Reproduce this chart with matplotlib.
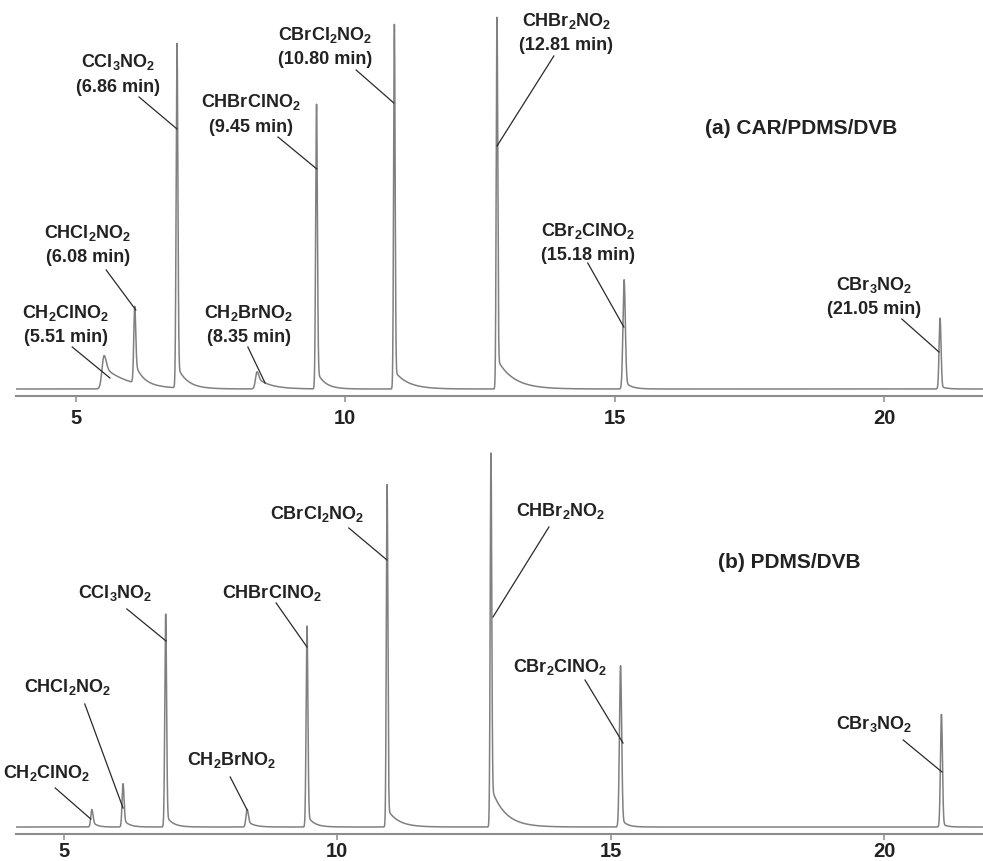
import numpy as np
import matplotlib.pyplot as plt

plt.rcParams['font.family'] = ['Liberation Sans', 'DejaVu Sans']
plt.rcParams['font.weight'] = 'bold'
plt.rcParams['mathtext.default'] = 'regular'

# compound names and labelled retention times
names = ['CH$_2$ClNO$_2$', 'CHCl$_2$NO$_2$', 'CCl$_3$NO$_2$', 'CH$_2$BrNO$_2$',
         'CHBrClNO$_2$', 'CBrCl$_2$NO$_2$', 'CHBr$_2$NO$_2$', 'CBr$_2$ClNO$_2$',
         'CBr$_3$NO$_2$']
rt_text = ['5.51', '6.08', '6.86', '8.35', '9.45', '10.80', '12.81', '15.18', '21.05']

# (a) CAR/PDMS/DVB : peak apex time (min), height, width, tail height, tail decay (min)
rt_a = [5.52, 6.09, 6.875, 8.36, 9.465, 10.91, 12.815, 15.175, 21.04]
h_a = [35, 78, 346, 18, 286, 366, 374, 110, 71]
sig_a = [0.04, 0.018, 0.016, 0.03, 0.016, 0.014, 0.014, 0.022, 0.018]
tail_a = [22, 20, 22, 11, 18, 18, 30, 8, 3]
tau_a = [0.45, 0.15, 0.18, 0.25, 0.15, 0.25, 0.3, 0.12, 0.1]

# (b) PDMS/DVB
rt_b = [5.51, 6.08, 6.86, 8.35, 9.445, 10.91, 12.81, 15.18, 21.05]
h_b = [18, 44, 214, 18, 202, 344, 377, 162, 113]
sig_b = [0.02, 0.018, 0.016, 0.022, 0.016, 0.014, 0.014, 0.02, 0.018]
tail_b = [6, 8, 12, 6, 12, 18, 40, 9, 4]
tau_b = [0.08, 0.1, 0.12, 0.12, 0.12, 0.2, 0.25, 0.1, 0.08]

ticks = [5, 10, 15, 20]

# label layout: text centre (time, level of first line), leader start, leader tip
lab_a = [(4.81, 76), (5.22, 156), (5.78, 327), (8.21, 76), (8.25, 287),
         (9.62, 354), (14.10, 368), (14.50, 158), (19.81, 104)]
lead_a = [((4.93, 42), (5.63, 11)), ((5.56, 119), (6.11, 79)),
          ((6.17, 292), (6.875, 260)), ((8.19, 42), (8.51, 6)),
          ((8.75, 252), (9.47, 220)), ((10.20, 319), (10.90, 286)),
          ((13.87, 333), (12.815, 243)), ((14.50, 126), (15.17, 62)),
          ((20.33, 70), (21.02, 37))]
lab_b = [(4.69, 54), (5.07, 140), (5.93, 234), (8.06, 67), (8.81, 234),
         (9.63, 313), (14.09, 316), (14.07, 160), (19.82, 103)]
lead_b = [((4.84, 39), (5.49, 8)), ((5.38, 123), (6.08, 19)),
          ((6.15, 218), (6.866, 186)), ((8.04, 50), (8.35, 17)),
          ((8.88, 224), (9.445, 180)), ((10.21, 299), (10.908, 267)),
          ((13.87, 300), (12.847, 210)), ((14.53, 147), (15.225, 84)),
          ((20.35, 87), (21.06, 55))]


def trace(t, rt, h, sig, ta, tau):
    y = np.zeros_like(t)
    for r, hh, s, a, tu in zip(rt, h, sig, ta, tau):
        d = t - r
        y += (hh - a) * np.exp(-0.5 * (d / s) ** 2)
        step = 1 / (1 + np.exp(-(d + s) / (0.4 * s)))
        y += a * np.exp(-np.clip(d, 0, None) / tu) * step
    return y


fig = plt.figure(figsize=(9.83, 8.61), dpi=100)
ax1 = fig.add_axes([16 / 983, 1 - 396 / 861, 967 / 983, 386 / 861])
ax2 = fig.add_axes([16 / 983, 1 - 834 / 861, 967 / 983, 390 / 861])

panels = [
    (ax1, (3.886, 21.837), (-7, 379), rt_a, h_a, sig_a, tail_a, tau_a, lab_a, lead_a, True,
     '(a) CAR/PDMS/DVB', (18.46, 261), 4.5),
    (ax2, (4.122, 21.81), (-7, 383), rt_b, h_b, sig_b, tail_b, tau_b, lab_b, lead_b, False,
     '(b) PDMS/DVB', (18.26, 264), 1.0),
]

for ax, xl, yl, rt, h, sig, ta, tau, lab, lead, show_t, title, tpos, tpad in panels:
    t = np.linspace(xl[0], xl[1], 8000)
    ax.plot(t, trace(t, rt, h, sig, ta, tau), color='#808080', lw=1.1)
    ax.set_xlim(*xl)
    ax.set_ylim(*yl)
    for s in ['top', 'left', 'right']:
        ax.spines[s].set_visible(False)
    ax.spines['bottom'].set_color('#8c8c8c')
    ax.spines['bottom'].set_linewidth(1.5)
    ax.set_yticks([])
    ax.set_xticks(ticks)
    ax.set_xticklabels([str(v) for v in ticks], fontsize=14.5, fontweight='bold', color='#222222')
    ax.tick_params(axis='x', length=4.5, width=1.1, color='#8c8c8c', pad=tpad)
    for i, nm in enumerate(names):
        x0, y0 = lab[i]
        ax.text(x0, y0, nm, ha='center', va='center', fontsize=13, fontweight='bold',
                color='#222222')
        if show_t:
            ax.text(x0, y0 - 25, '(' + rt_text[i] + ' min)', ha='center', va='center',
                    fontsize=13, fontweight='bold', color='#222222')
        (sx, sy), (ex, ey) = lead[i]
        ax.plot([sx, ex], [sy, ey], color='#2a2a2a', lw=0.9)
    ax.text(tpos[0], tpos[1], title, ha='center', va='center', fontsize=15,
            fontweight='bold', color='#222222')

plt.savefig('out.png', dpi=100)
